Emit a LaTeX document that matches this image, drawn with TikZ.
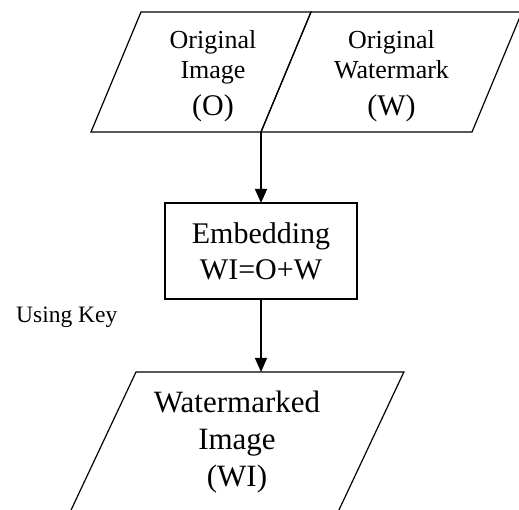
\documentclass[tikz,border=0pt]{standalone}
\usepackage{fontspec}
\setmainfont{Liberation Serif}
\usetikzlibrary{shapes.geometric, arrows.meta, positioning}
\tikzset{
    io/.style={trapezium, draw, line width=1.2pt, outer sep=0pt},
    block/.style={rectangle, draw, line width=1.2pt, align=center, minimum width=192pt, minimum height=96pt, inner sep=0pt, outer sep=0pt},
    txt/.style={align=center, inner sep=0pt},
    arrow/.style={line width=1.4pt, -{Triangle[width=12pt,length=14pt]}}
}

\begin{document}
\begin{tikzpicture}[x=1pt, y=1pt]
    \useasboundingbox (0,0) rectangle (519,-510);
    \clip (0,0) rectangle (519,-510);
    % top inputs
    \node[io, trapezium left angle=67.38, trapezium right angle=112.62, inner xsep=60pt, inner ysep=60pt] (img) at (201,-72) {};
    \node[io, trapezium left angle=67.38, trapezium right angle=112.62, inner xsep=80.5pt, inner ysep=60pt, anchor=bottom left corner] (wm) at (img.bottom right corner) {};
    \node[txt, font=\fontsize{26}{30}\selectfont] (imgtxt) at ([xshift=12pt, yshift=-4pt]img.center) {Original\\Image\\[7pt]{\fontsize{30}{37}\selectfont (O)}};
    \node[txt, font=\fontsize{26}{30}\selectfont] (wmtxt) at ([yshift=-4pt]wm.center) {Original\\Watermark\\[7pt]{\fontsize{30}{37}\selectfont (W)}};

    % embedding step
    \node[block, font=\fontsize{30}{36}\selectfont, below=71pt of img.bottom right corner] (embed) {Embedding\\WI=O+W};
    \node[txt, font=\fontsize{23.5}{28}\selectfont, anchor=base west] (key) at (16,-323) {Using Key};

    % output
    \node[io, trapezium left angle=64.8, trapezium right angle=115.2, inner xsep=101pt, inner ysep=70pt] (out) at (237,-442) {};
    \node[txt, font=\fontsize{31}{37}\selectfont] (outtxt) at (out.center) {Watermarked\\Image\\(WI)};

    \draw[arrow] (img.bottom right corner) -- (embed.north);
    \draw[arrow] (embed.south) -- (embed.south |- out.north);
\end{tikzpicture}
\end{document}
